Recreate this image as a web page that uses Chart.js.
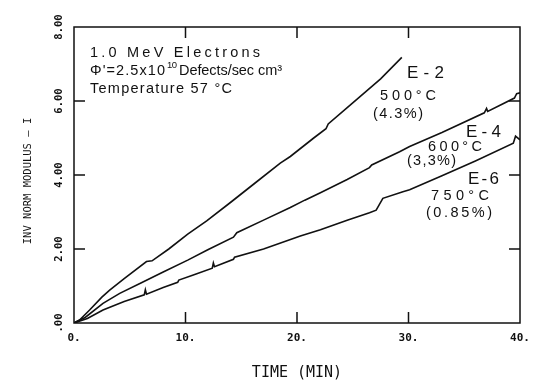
<!DOCTYPE html>
<html>
<head>
<meta charset="utf-8">
<script src="https://cdn.jsdelivr.net/npm/chart.js@4.4.0/dist/chart.umd.min.js"></script>
<style>
  body { margin: 0; background: #fff; }
  canvas { display: block; }
</style>
</head>
<body>
<canvas id="modulusChart" width="533" height="385"></canvas>
<script>
// Time (min) and inverse normalised modulus for each specimen
const timeE2 = [0, 0.5, 1.4, 2.5, 3.2, 4.5, 6.5, 7.0, 8.5, 10.2, 11.9, 14.0, 16.1, 18.5, 19.4, 21.5, 22.6, 22.8, 25.0, 27.5, 29.4];
const valE2  = [0, 0.08, 0.35, 0.70, 0.89, 1.20, 1.66, 1.68, 2.00, 2.40, 2.76, 3.25, 3.75, 4.32, 4.50, 5.00, 5.25, 5.38, 5.95, 6.60, 7.18];

const timeE4 = [0, 1.0, 2.6, 4.1, 6.0, 8.0, 10.2, 12.0, 14.3, 14.6, 17.0, 19.4, 20.7, 22.1, 24.5, 26.5, 26.7, 29.2, 30.1, 33.0, 36.8, 37.0, 37.1, 39.5, 39.7, 40.0];
const valE4  = [0, 0.15, 0.53, 0.80, 1.08, 1.38, 1.70, 1.98, 2.32, 2.44, 2.78, 3.12, 3.32, 3.52, 3.88, 4.20, 4.27, 4.63, 4.77, 5.15, 5.68, 5.80, 5.72, 6.08, 6.20, 6.22];

const timeE6 = [0, 1.2, 2.6, 4.5, 6.3, 6.4, 6.5, 8.0, 9.3, 9.4, 10.7, 12.4, 12.5, 12.6, 14.3, 14.4, 17.0, 20.3, 22.1, 24.5, 26.5, 27.1, 27.7, 29.5, 30.1, 33.0, 36.0, 39.4, 39.6, 40.0];
const valE6  = [0, 0.12, 0.35, 0.58, 0.76, 0.90, 0.78, 0.96, 1.10, 1.16, 1.30, 1.48, 1.62, 1.52, 1.72, 1.78, 2.00, 2.35, 2.52, 2.78, 2.98, 3.05, 3.37, 3.55, 3.60, 3.98, 4.38, 4.86, 5.05, 4.95];

// Axis ticks
const xTickValues = [0, 10, 20, 30, 40];
const xTickLabels = ['0.', '10.', '20.', '30.', '40.'];
const yTickValues = [0, 2, 4, 6, 8];
const yTickLabels = ['.00', '2.00', '4.00', '6.00', '8.00'];

function toPoints(xs, ys) {
    return xs.map((x, i) => ({ x: x, y: ys[i] }));
}

// draw a string spread out to a given width (lettering-stencil look)
function fitText(ctx, str, x, y, size, width) {
    ctx.font = size + 'px "Liberation Sans"';
    ctx.letterSpacing = '0px';
    const natural = ctx.measureText(str).width;
    const n = Array.from(str).length;
    ctx.letterSpacing = ((width - natural) / Math.max(n - 1, 1)) + 'px';
    ctx.fillText(str, x, y);
}

// Frame, inward ticks, tick labels, axis titles and curve notes
const framePlugin = {
    id: 'frame',
    afterDraw(chart) {
        const ctx = chart.ctx;
        const area = chart.chartArea;
        const xs = chart.scales.x;
        const ys = chart.scales.y;
        const tickLen = 11;

        ctx.save();
        ctx.strokeStyle = '#111';
        ctx.lineWidth = 1.5;
        ctx.strokeRect(area.left, area.top, area.right - area.left, area.bottom - area.top);

        ctx.beginPath();
        xTickValues.slice(1, -1).forEach(v => {
            const px = xs.getPixelForValue(v);
            ctx.moveTo(px, area.bottom);
            ctx.lineTo(px, area.bottom - tickLen);
            ctx.moveTo(px, area.top);
            ctx.lineTo(px, area.top + tickLen);
        });
        yTickValues.slice(1, -1).forEach(v => {
            const py = ys.getPixelForValue(v);
            ctx.moveTo(area.left, py);
            ctx.lineTo(area.left + tickLen, py);
            ctx.moveTo(area.right, py);
            ctx.lineTo(area.right - tickLen, py);
        });
        ctx.stroke();

        ctx.fillStyle = '#111';
        ctx.letterSpacing = '0px';
        ctx.font = 'bold 11px "DejaVu Sans Mono"';
        ctx.textAlign = 'center';
        ctx.textBaseline = 'middle';
        xTickValues.forEach((v, i) => {
            ctx.fillText(xTickLabels[i], xs.getPixelForValue(v), area.bottom + 15);
        });
        ctx.font = 'bold 10.5px "DejaVu Sans Mono"';
        yTickValues.forEach((v, i) => {
            ctx.save();
            ctx.translate(area.left - 15, ys.getPixelForValue(v));
            ctx.rotate(-Math.PI / 2);
            ctx.fillText(yTickLabels[i], 0, 0);
            ctx.restore();
        });

        // axis titles
        ctx.font = '15px "DejaVu Sans Mono"';
        ctx.fillText('TIME (MIN)', (area.left + area.right) / 2, 373);
        ctx.save();
        ctx.translate(28, 181);
        ctx.rotate(-Math.PI / 2);
        ctx.font = '10.5px "DejaVu Sans Mono"';
        ctx.fillText('INV NORM MODULUS \u2014 I', 0, 0);
        ctx.restore();

        // irradiation conditions
        ctx.textAlign = 'left';
        ctx.textBaseline = 'alphabetic';
        fitText(ctx, '1.0 MeV Electrons', 90, 57, 14.5, 170);
        fitText(ctx, "\u03A6'=2.5x10", 90, 75, 14.5, 75);
        fitText(ctx, '10', 167, 68, 9.5, 10);
        fitText(ctx, 'Defects/sec cm\u00B3', 179, 75, 14.5, 103);
        fitText(ctx, 'Temperature 57 \u00B0C', 90, 93, 14.5, 142);

        // curve notes
        fitText(ctx, 'E-2', 407, 78, 17, 37);
        fitText(ctx, '500\u00B0C', 380, 100, 14.5, 56);
        fitText(ctx, '(4.3%)', 373, 118, 14.5, 50);
        fitText(ctx, 'E-4', 466, 137, 17, 35);
        fitText(ctx, '600\u00B0C', 428, 151, 14.5, 54);
        fitText(ctx, '(3,3%)', 407, 165, 14.5, 49);
        fitText(ctx, 'E-6', 468, 184, 17, 31);
        fitText(ctx, '750\u00B0C', 431, 200, 14.5, 58);
        fitText(ctx, '(0.85%)', 426, 217, 14.5, 66);
        ctx.restore();
    }
};

const lineStyle = {
    borderColor: '#111',
    borderWidth: 1.6,
    pointRadius: 0,
    tension: 0,
    fill: false
};

document.addEventListener('DOMContentLoaded', function() {
    const ctx = document.getElementById('modulusChart').getContext('2d');
    new Chart(ctx, {
        type: 'line',
        data: {
            datasets: [
                Object.assign({ label: 'E-2', data: toPoints(timeE2, valE2) }, lineStyle),
                Object.assign({ label: 'E-4', data: toPoints(timeE4, valE4) }, lineStyle),
                Object.assign({ label: 'E-6', data: toPoints(timeE6, valE6) }, lineStyle)
            ]
        },
        options: {
            responsive: false,
            animation: false,
            layout: {
                padding: { left: 74, right: 13, top: 27, bottom: 62 }
            },
            scales: {
                x: { type: 'linear', min: 0, max: 40, display: false },
                y: { type: 'linear', min: 0, max: 8, display: false }
            },
            plugins: {
                legend: { display: false },
                tooltip: { enabled: false }
            }
        },
        plugins: [framePlugin]
    });
});
</script>
</body>
</html>
